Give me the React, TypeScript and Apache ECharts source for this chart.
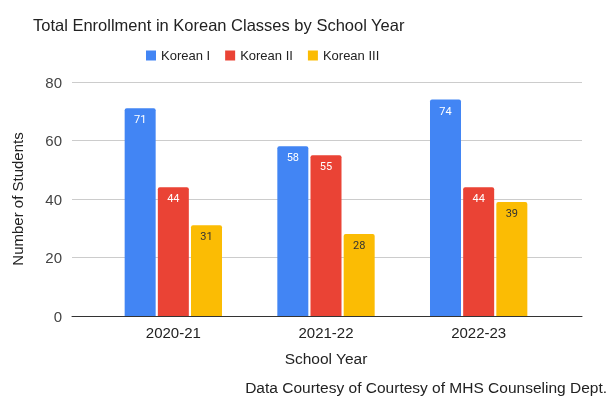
import React, { useEffect, useRef } from "react";
import * as echarts from "echarts";

const categories = ["2020-21", "2021-22", "2022-23"];
const koreanI = [71, 58, 74];
const koreanII = [44, 55, 44];
const koreanIII = [31, 28, 39];
const seriesNames = ["Korean I", "Korean II", "Korean III"];
const yTicks = [0, 20, 40, 60, 80];

const FONT = "Liberation Sans, Arial, sans-serif";

export default function App() {
  const ref = useRef<HTMLDivElement>(null);
  useEffect(() => {
    if (!ref.current) return;
    const chart = echarts.init(ref.current, null, { renderer: "svg" });
    const colors = ["#4285F4", "#EA4335", "#FBBC04"];
    const data = [koreanI, koreanII, koreanIII];
    const labelColors = ["#ffffff", "#ffffff", "#333333"];
    chart.setOption({
      animation: false,
      textStyle: { fontFamily: FONT },
      title: {
        text: "Total Enrollment in Korean Classes by School Year",
        left: 28,
        top: 11,
        textStyle: { fontSize: 16.5, fontWeight: "normal", color: "#222222", fontFamily: FONT },
      },
      legend: {
        data: seriesNames,
        top: 44,
        left: 141,
        itemWidth: 10,
        itemHeight: 10,
        itemGap: 15,
        icon: "rect",
        textStyle: { fontSize: 13, color: "#222222", fontFamily: FONT },
      },
      grid: [
        { left: 72, right: 32, top: 82, bottom: 80, containLabel: false },
        { left: 97, right: 59, top: 82, bottom: 80, containLabel: false },
      ],
      xAxis: [
        {
          gridIndex: 0,
          type: "category",
          data: categories,
          axisLine: { show: true, lineStyle: { color: "#333333", width: 1 } },
          axisTick: { show: false },
          axisLabel: { show: false },
        },
        {
          gridIndex: 1,
          type: "category",
          data: categories,
          axisLine: { show: false },
          axisTick: { show: false },
          axisLabel: { fontSize: 15, color: "#222222", margin: 9, fontFamily: FONT },
          name: "School Year",
          nameLocation: "middle",
          nameGap: 34,
          nameTextStyle: { fontSize: 15.5, color: "#222222", fontFamily: FONT },
        },
      ],
      yAxis: [
        {
          gridIndex: 0,
          type: "value",
          min: yTicks[0],
          max: yTicks[yTicks.length - 1],
          interval: 20,
          axisLine: { show: false },
          axisTick: { show: false },
          splitLine: { lineStyle: { color: "#cccccc", width: 1 } },
          axisLabel: { fontSize: 15, color: "#444444", margin: 10, fontFamily: FONT },
          name: "Number of Students",
          nameLocation: "middle",
          nameRotate: 90,
          nameGap: 47,
          nameTextStyle: { fontSize: 15, color: "#222222", fontFamily: FONT },
        },
        {
          gridIndex: 1,
          type: "value",
          min: yTicks[0],
          max: yTicks[yTicks.length - 1],
          interval: 20,
          show: false,
          splitLine: { show: false },
        },
      ],
      series: seriesNames.map((name, i) => ({
        name,
        type: "bar",
        xAxisIndex: 1,
        yAxisIndex: 1,
        data: data[i],
        barWidth: 31,
        barGap: "7%",
        itemStyle: { color: colors[i], borderRadius: [2, 2, 0, 0] },
        label: {
          show: true,
          position: "insideTop",
          distance: 6,
          fontSize: 11,
          color: labelColors[i],
          fontFamily: "Roboto, sans-serif",
        },
      })),
      graphic: [
        {
          type: "text",
          right: 7,
          top: 379,
          style: {
            text: "Data Courtesy of Courtesy of MHS Counseling Dept.",
            fontSize: 15.5,
            fill: "#222222",
            fontFamily: FONT,
          },
        },
      ],
    });
    return () => chart.dispose();
  }, []);
  return <div ref={ref} style={{ width: 614, height: 396, position: "fixed", left: 0, top: 0 }} />;
}
